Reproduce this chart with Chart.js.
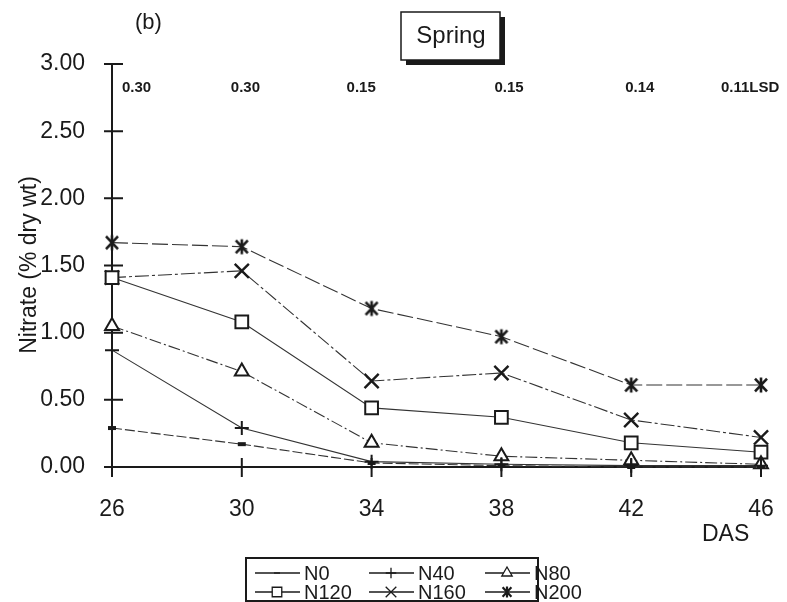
<!DOCTYPE html>
<html>
<head>
<meta charset="utf-8">
<script src="https://cdn.jsdelivr.net/npm/chart.js@4"></script>
<style>
  body { margin: 0; background: #fff; }
  #wrap { width: 787px; height: 602px; position: relative; }
</style>
</head>
<body>
<div id="wrap"><canvas id="c"></canvas></div>
<script>
// days after sowing
const das = [26, 30, 34, 38, 42, 46];
const lsd = ['0.30', '0.30', '0.15', '0.15', '0.14', '0.11LSD'];

const n0   = [0.29, 0.17, 0.03, 0.01, 0.00, 0.00];
const n40  = [0.87, 0.29, 0.04, 0.02, 0.01, 0.01];
const n80  = [1.05, 0.71, 0.18, 0.08, 0.05, 0.02];
const n120 = [1.41, 1.08, 0.44, 0.37, 0.18, 0.11];
const n160 = [1.41, 1.46, 0.64, 0.70, 0.35, 0.22];
const n200 = [1.67, 1.64, 1.18, 0.97, 0.61, 0.61];

const yTicks = [0, 0.5, 1, 1.5, 2, 2.5, 3];

const ink = '#1a1a1a';
const FONT = '"Liberation Sans", Arial, sans-serif';

// asterisk marker: an x with a vertical bar through it
function asterisk(size, lw) {
    const c = document.createElement('canvas');
    c.width = size; c.height = size;
    const g = c.getContext('2d');
    const m = size / 2, r = size / 2 - 1.5;
    g.strokeStyle = ink;
    g.lineWidth = lw;
    g.beginPath();
    g.moveTo(m - r * 0.8, m - r * 0.85); g.lineTo(m + r * 0.8, m + r * 0.85);
    g.moveTo(m + r * 0.8, m - r * 0.85); g.lineTo(m - r * 0.8, m + r * 0.85);
    g.moveTo(m, m - r); g.lineTo(m, m + r);
    g.stroke();
    return c;
}
const starBig = asterisk(18, 2.6);
const starSmall = asterisk(14, 2.2);

function series(label, values, style, dash, radius, bw) {
    return {
        label: label,
        data: das.map((d, i) => ({x: d, y: values[i]})),
        borderColor: '#333',
        borderWidth: 1.1,
        borderDash: dash,
        pointStyle: style,
        pointRadius: radius,
        pointBorderWidth: bw,
        pointBorderColor: ink,
        pointBackgroundColor: '#fff',
        clip: false,
        tension: 0
    };
}

const datasets = [
    series('N0', n0, 'line', [10, 3], 4, 4),
    series('N40', n40, 'cross', [], 7, 2),
    series('N80', n80, 'triangle', [12, 3, 2, 3], 8, 2),
    series('N120', n120, 'rect', [], 9, 2),
    series('N160', n160, 'crossRot', [14, 3, 3, 3], 10, 2.4),
    series('N200', n200, starBig, [16, 4], 9, 2.2)
];

function mark(ctx, ds, x, y) {
    let style = ds.pointStyle;
    if (style === starBig) style = starSmall;
    Chart.helpers.drawPoint(ctx, {
        pointStyle: style,
        radius: ds.pointRadius * 0.75,
        borderWidth: ds.pointBorderWidth,
        rotation: 0
    }, x, y);
}

const extras = {
    id: 'extras',
    afterDraw(chart) {
        const ctx = chart.ctx;
        const xs = chart.scales.x, ys = chart.scales.y;
        const ax = xs.getPixelForValue(das[0]);
        const ay = ys.getPixelForValue(0);
        ctx.save();
        ctx.strokeStyle = ink;
        ctx.lineWidth = 2;
        // crossing tick marks
        ctx.beginPath();
        yTicks.forEach(v => {
            const p = ys.getPixelForValue(v);
            ctx.moveTo(ax - 8, p); ctx.lineTo(ax + 11, p);
        });
        das.forEach(d => {
            const p = xs.getPixelForValue(d);
            ctx.moveTo(p, ay - 9); ctx.lineTo(p, ay + 10);
        });
        ctx.stroke();

        ctx.fillStyle = ink;
        // LSD values
        ctx.font = 'bold 15px "Liberation Sans Narrow", "Liberation Sans", Arial';
        ctx.textBaseline = 'middle';
        ctx.textAlign = 'left';
        const shift = [10, -11, -25, -7, -6, -40];
        lsd.forEach((t, i) => {
            ctx.fillText(t, xs.getPixelForValue(das[i]) + shift[i], 88);
        });

        // panel letter, axis titles
        ctx.font = '22px ' + FONT;
        ctx.fillText('(b)', 135, 23);
        ctx.font = '23px ' + FONT;
        ctx.fillText('DAS', 702, 535);
        ctx.save();
        ctx.translate(30, 265);
        ctx.rotate(-Math.PI / 2);
        ctx.textAlign = 'center';
        ctx.font = '23px ' + FONT;
        ctx.fillText('Nitrate (% dry wt)', 0, 0);
        ctx.restore();

        // Spring box with shadow
        ctx.fillRect(406, 17, 99, 48);
        ctx.fillStyle = '#fff';
        ctx.fillRect(401, 12, 99, 48);
        ctx.lineWidth = 1.5;
        ctx.strokeRect(401, 12, 99, 48);
        ctx.fillStyle = ink;
        ctx.textAlign = 'center';
        ctx.font = '24px ' + FONT;
        ctx.fillText('Spring', 451, 36);

        // legend
        ctx.lineWidth = 2;
        ctx.strokeRect(246, 558, 292, 43);
        const cols = [255, 369, 485];
        const rows = [573, 592];
        ctx.font = '20px ' + FONT;
        ctx.textAlign = 'left';
        chart.data.datasets.forEach((ds, i) => {
            const x0 = cols[i % 3], y0 = rows[Math.floor(i / 3)];
            ctx.lineWidth = 1.3;
            ctx.setLineDash([]);
            ctx.strokeStyle = ink;
            ctx.beginPath();
            ctx.moveTo(x0, y0); ctx.lineTo(x0 + 45, y0);
            ctx.stroke();
            ctx.fillStyle = '#fff';
            ctx.strokeStyle = ink;
            mark(ctx, ds, x0 + 22, y0);
            ctx.fillStyle = ink;
            ctx.fillText(ds.label, x0 + 49, y0 + 1);
        });
        ctx.restore();
    }
};

new Chart(document.getElementById('c'), {
    type: 'line',
    data: {datasets: datasets},
    options: {
        responsive: true,
        maintainAspectRatio: false,
        animation: false,
        layout: {padding: {top: 64, right: 26, bottom: 70, left: 0}},
        plugins: {legend: {display: false}, tooltip: {enabled: false}},
        scales: {
            x: {
                type: 'linear',
                min: 26, max: 46,
                afterFit: s => { s.height = 65; s.paddingRight = 0; s.paddingLeft = 0; },
                grid: {display: false},
                border: {display: true, color: ink, width: 2},
                ticks: {stepSize: 4, padding: 21, color: ink, font: {family: FONT, size: 23}}
            },
            y: {
                min: 0, max: 3,
                afterFit: s => { s.width = 112; s.paddingTop = 0; s.paddingBottom = 0; },
                grid: {display: false},
                border: {display: true, color: ink, width: 2},
                ticks: {
                    stepSize: 0.5, padding: 19, color: ink,
                    font: {family: FONT, size: 23},
                    callback: v => v.toFixed(2)
                }
            }
        }
    },
    plugins: [extras]
});
</script>
</body>
</html>
